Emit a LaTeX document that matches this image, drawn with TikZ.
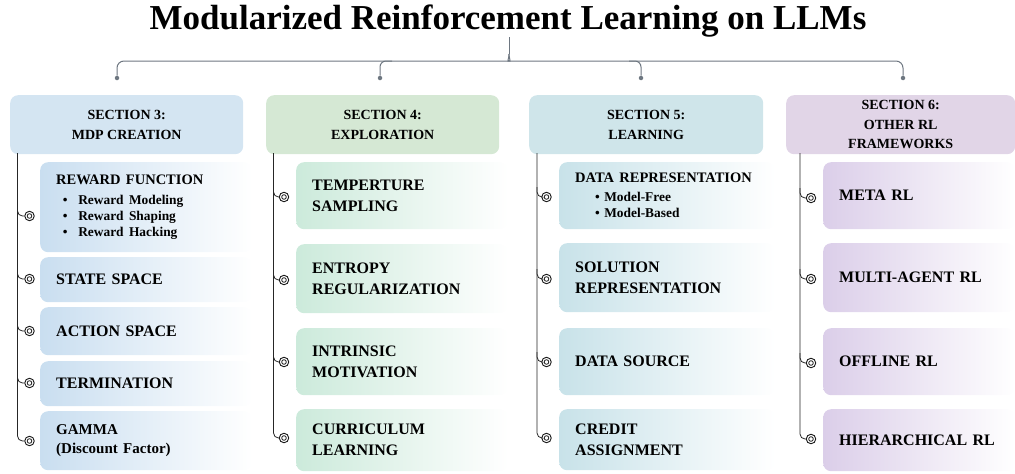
\documentclass[tikz,border=0pt]{standalone}
\usepackage{fontspec}
\setmainfont{Liberation Serif}
\usetikzlibrary{calc}

\definecolor{bracegray}{HTML}{6E7781}
\definecolor{hdrblue}{HTML}{D4E5F2}
\definecolor{hdrgreen}{HTML}{D5E8D4}
\definecolor{hdrteal}{HTML}{CFE5EA}
\definecolor{hdrpurple}{HTML}{E1D5E7}
\definecolor{itmblue}{HTML}{C9DEF0}
\definecolor{itmgreen}{HTML}{CCEADB}
\definecolor{itmteal}{HTML}{C8E2E9}
\definecolor{itmpurple}{HTML}{DBCEE9}

\newcommand\rbul{\hspace*{6.7pt}\textbullet\hspace{10.7pt}}
\newcommand\dbul{\hspace*{20pt}\textbullet\hspace{4.4pt}}
\newcommand\closepar{\par}

\tikzset{
  hdr/.style={rounded corners=8pt, anchor=north west, minimum height=59pt, inner sep=0pt,
    align=center, font=\fontsize{14}{19.5}\selectfont\bfseries},
  itm/.style={rounded corners=8pt, anchor=north west, inner xsep=16pt, inner ysep=0pt,
    align=left, right color=white, font=\fontsize{16}{21}\selectfont\bfseries},
  ring/.style={circle, draw=black!90, fill=white, line width=0.9pt, minimum size=9.5pt, inner sep=0pt,
    path picture={\draw[black!90, line width=0.8pt] (path picture bounding box.center) circle (2.3pt);}},
  hook/.style={draw=black!85, line width=0.8pt, rounded corners=5pt},
  brace/.style={draw=bracegray, line width=1pt},
  dot/.style={circle, fill=bracegray, inner sep=0pt, minimum size=4.5pt}
}

\begin{document}
\begin{tikzpicture}[x=1pt,y=-1pt]
\useasboundingbox (0,0) rectangle (1015,474);

\node[font=\fontsize{35}{40}\selectfont\bfseries, anchor=base] (title) at (508,29)
  {Modularized Reinforcement Learning on LLMs};

% brace
\coordinate (top) at (509,37);
\coordinate (tip) at (509,54);
\node[dot] (d3) at (117,78) {};
\node[dot] (d4) at (380,78) {};
\node[dot] (d5) at (641,78) {};
\node[dot] (d6) at (903,78) {};
\draw[brace] (top) -- (tip);
\draw[brace, rounded corners=7pt] (tip) .. controls (509,58) and (507,61) .. (502,61) -| (d3);
\draw[brace, rounded corners=7pt] (tip) .. controls (509,58) and (511,61) .. (516,61) -| (d6);
\draw[brace, rounded corners=6pt] (392,61) -| (d4);
\draw[brace, rounded corners=6pt] (629,61) -| (d5);

% section headers
\node[hdr, fill=hdrblue, minimum width=233pt] (s3) at (10,95) {SECTION 3:\\MDP CREATION};
\node[hdr, fill=hdrgreen, minimum width=233pt] (s4) at (266,95) {SECTION 4:\\EXPLORATION};
\node[hdr, fill=hdrteal, minimum width=234pt] (s5) at (529,95) {SECTION 5:\\LEARNING};
\node[hdr, fill=hdrpurple, minimum width=229pt] (s6) at (786,95) {SECTION 6:\\OTHER RL\\FRAMEWORKS};

\coordinate (v3) at (17.5,153);
\coordinate (v4) at (273.5,153);
\coordinate (v5) at (537,153);
\coordinate (v6) at (800,153);

% MDP creation
\foreach \n/\t/\h/\c/\txt in {
  1/162/90/216/{\fontsize{14.5}{16}\selectfont REWARD FUNCTION\\[3.5pt]\fontsize{13.4}{16}\selectfont
    \rbul Reward Modeling\\\rbul Reward Shaping\\\rbul Reward Hacking\closepar},
  2/257/45/279/{STATE SPACE},
  3/307/48/331/{ACTION SPACE},
  4/361/45/383/{TERMINATION},
  5/411/59/441/{\fontsize{15}{18.5}\selectfont GAMMA\\(Discount Factor)\closepar}}{
  \node[itm, left color=itmblue, text width=180pt, minimum height=\h] (a\n) at (40,\t) {\txt};
  \node[ring] (ra\n) at (29.5,\c) {};
}
\draw[hook] (v3) |- (ra5.west);
\foreach \n in {1,...,4}
  \draw[hook] ($(ra\n.west -| v3)+(0,-10)$) |- (ra\n.west);

% exploration
\foreach \n/\t/\h/\c/\txt in {
  1/162/67/197/{TEMPERTURE\\SAMPLING},
  2/244/69/280/{ENTROPY\\REGULARIZATION},
  3/328/67/362/{INTRINSIC\\MOTIVATION},
  4/409/62/438/{CURRICULUM\\LEARNING}}{
  \node[itm, left color=itmgreen, text width=180pt, minimum height=\h] (b\n) at (296,\t) {\txt};
  \node[ring] (rb\n) at (284,\c) {};
}
\draw[hook] (v4) |- (rb4.west);
\foreach \n in {1,...,3}
  \draw[hook] ($(rb\n.west -| v4)+(0,-10)$) |- (rb\n.west);

% learning
\foreach \n/\t/\h/\c/\txt in {
  1/162/67/197/{\fontsize{14.5}{16}\selectfont DATA REPRESENTATION\\[3pt]\fontsize{13.4}{16}\selectfont
    \dbul Model-Free\\\dbul Model-Based\closepar},
  2/243/69/279/{SOLUTION\\REPRESENTATION},
  3/328/67/362/{DATA SOURCE},
  4/409/61/438/{CREDIT\\ASSIGNMENT}}{
  \node[itm, left color=itmteal, text width=184pt, minimum height=\h] (c\n) at (559,\t) {\txt};
  \node[ring] (rc\n) at (546.5,\c) {};
}
\draw[hook] (v5) |- (rc4.west);
\foreach \n in {1,...,3}
  \draw[hook] ($(rc\n.west -| v5)+(0,-10)$) |- (rc\n.west);

% other frameworks
\foreach \n/\t/\h/\c/\txt in {
  1/162/67/198/{META RL},
  2/243/69/279/{MULTI-AGENT RL},
  3/328/67/363/{OFFLINE RL},
  4/409/62/439/{HIERARCHICAL RL}}{
  \node[itm, left color=itmpurple, text width=160pt, minimum height=\h] (e\n) at (823,\t) {\txt};
  \node[ring] (re\n) at (811,\c) {};
}
\draw[hook] (v6) |- (re4.west);
\foreach \n in {1,...,3}
  \draw[hook] ($(re\n.west -| v6)+(0,-10)$) |- (re\n.west);
\end{tikzpicture}
\end{document}
